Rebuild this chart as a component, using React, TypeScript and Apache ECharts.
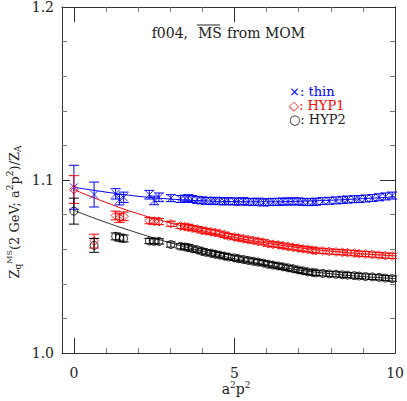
import React, { useEffect, useRef } from "react";
import * as echarts from "echarts";

const xVals = [0, 0.63, 1.3, 1.42, 1.55, 2.35, 2.5, 2.65, 3.02, 3.32, 3.46, 3.56, 3.68, 3.84, 3.99, 4.11, 4.27, 4.4, 4.54, 4.69, 4.81, 5.0, 5.12, 5.28, 5.43, 5.59, 5.74, 5.9, 6.05, 6.2, 6.36, 6.51, 6.67, 6.82, 6.98, 7.13, 7.28, 7.44, 7.54, 7.75, 7.95, 8.16, 8.36, 8.52, 8.73, 8.88, 9.08, 9.29, 9.5, 9.7, 9.91];

const thinY = [1.0958, 1.0916, 1.092, 1.0886, 1.09, 1.0915, 1.0882, 1.09, 1.0895, 1.089, 1.0892, 1.0895, 1.089, 1.0885, 1.0882, 1.088, 1.0878, 1.088, 1.0878, 1.0876, 1.0878, 1.0876, 1.0875, 1.0878, 1.0874, 1.0872, 1.0875, 1.087, 1.0872, 1.0874, 1.0873, 1.0876, 1.0875, 1.0877, 1.0876, 1.0874, 1.0872, 1.0873, 1.0875, 1.0878, 1.088, 1.0882, 1.0885, 1.0887, 1.0889, 1.089, 1.0893, 1.0896, 1.09, 1.0905, 1.091];
const hyp1Y = [1.0945, 1.0647, 1.0795, 1.078, 1.079, 1.0765, 1.0762, 1.076, 1.0747, 1.0734, 1.073, 1.0727, 1.0722, 1.0716, 1.0709, 1.0705, 1.07, 1.0696, 1.069, 1.0683, 1.0676, 1.067, 1.0666, 1.066, 1.0655, 1.065, 1.0645, 1.064, 1.0632, 1.0628, 1.0625, 1.062, 1.0615, 1.0611, 1.0606, 1.0602, 1.0599, 1.0594, 1.0592, 1.059, 1.0587, 1.0584, 1.0582, 1.058, 1.0577, 1.0574, 1.0572, 1.0569, 1.0566, 1.0563, 1.0561];
const hyp2Y = [1.082, 1.0622, 1.0674, 1.0667, 1.0662, 1.0647, 1.0645, 1.0645, 1.0627, 1.0617, 1.0613, 1.061, 1.0603, 1.0597, 1.0588, 1.0582, 1.0577, 1.0571, 1.0566, 1.056, 1.0555, 1.055, 1.0545, 1.054, 1.0535, 1.053, 1.0525, 1.052, 1.0513, 1.0508, 1.0503, 1.0498, 1.0492, 1.0487, 1.048, 1.0475, 1.0469, 1.0465, 1.0463, 1.046, 1.0457, 1.0455, 1.0452, 1.045, 1.0447, 1.0445, 1.0442, 1.044, 1.0437, 1.0433, 1.043];

const thinErr = [0.0127, 0.0072, 0.003, 0.003, 0.003, 0.0025, 0.0025, 0.0025, 0.002, 0.002, 0.002, 0.002, 0.002, 0.002, 0.002, 0.002, 0.002, 0.002, 0.002, 0.002, 0.002, 0.002, 0.002, 0.002, 0.002, 0.002, 0.002, 0.002, 0.002, 0.002, 0.002, 0.002, 0.002, 0.002, 0.002, 0.002, 0.002, 0.002, 0.002, 0.002, 0.002, 0.002, 0.002, 0.002, 0.002, 0.002, 0.002, 0.002, 0.002, 0.002, 0.002];
const hyp1Err = [0.008, 0.004, 0.0025, 0.0025, 0.0025, 0.0018, 0.0018, 0.0018, 0.0015, 0.0015, 0.0015, 0.0015, 0.0015, 0.0015, 0.0015, 0.0015, 0.0015, 0.0015, 0.0015, 0.0015, 0.0015, 0.0015, 0.0015, 0.0015, 0.0015, 0.0015, 0.0015, 0.0015, 0.0015, 0.0015, 0.0015, 0.0015, 0.0015, 0.0015, 0.0015, 0.0015, 0.0015, 0.0015, 0.0015, 0.0015, 0.0015, 0.0015, 0.0015, 0.0015, 0.0015, 0.0015, 0.0015, 0.0015, 0.0015, 0.0015, 0.0015];
const hyp2Err = [0.0075, 0.004, 0.002, 0.002, 0.002, 0.0015, 0.0015, 0.0015, 0.0015, 0.0015, 0.0015, 0.0015, 0.0015, 0.0015, 0.0015, 0.0015, 0.0015, 0.0015, 0.0015, 0.0015, 0.0015, 0.0015, 0.0015, 0.0015, 0.0015, 0.0015, 0.0015, 0.0015, 0.0015, 0.0015, 0.0015, 0.0015, 0.0015, 0.0015, 0.0015, 0.0015, 0.0015, 0.0015, 0.0015, 0.0015, 0.0015, 0.0015, 0.0015, 0.0015, 0.0015, 0.0015, 0.0015, 0.0015, 0.0015, 0.0015, 0.0015];

const fitX = [0, 1, 2, 3, 4, 5, 6, 7, 8, 9, 10];
const thinFit = [1.0958, 1.093, 1.0906, 1.089, 1.088, 1.0875, 1.0874, 1.0877, 1.0883, 1.0892, 1.0903];
const hyp1Fit = [1.0945, 1.087, 1.0805, 1.0752, 1.0707, 1.0668, 1.0636, 1.0609, 1.0589, 1.0573, 1.0562];
const hyp2Fit = [1.0824, 1.0755, 1.0693, 1.0637, 1.0588, 1.0545, 1.051, 1.048, 1.0458, 1.0442, 1.043];

const xMajor = [0, 5, 10];
const xMinor = [1, 2, 3, 4, 6, 7, 8, 9];

const FONT = "DejaVu Serif";
const FRAME = "#333";
const BLUE = "#0000ff";
const RED = "#ff0000";
const BLACK = "#000000";

const pts = (ys: number[]) => xVals.map((x, i) => [x, ys[i]]);
const fitPts = (ys: number[]) => fitX.map((x, i) => [x, ys[i]]);

function errSeries(ys: number[], errs: number[], color: string) {
  return {
    type: "custom",
    xAxisIndex: 0,
    yAxisIndex: 0,
    z: 5,
    data: xVals.map((x, i) => [x, ys[i] - errs[i], ys[i] + errs[i]]),
    renderItem: (params: any, api: any) => {
      const lo = api.coord([api.value(0), api.value(1)]);
      const hi = api.coord([api.value(0), api.value(2)]);
      const w = 5;
      const st = { stroke: color, lineWidth: 1 };
      return {
        type: "group",
        children: [
          { type: "line", shape: { x1: lo[0], y1: lo[1], x2: hi[0], y2: hi[1] }, style: st },
          { type: "line", shape: { x1: lo[0] - w, y1: lo[1], x2: lo[0] + w, y2: lo[1] }, style: st },
          { type: "line", shape: { x1: hi[0] - w, y1: hi[1], x2: hi[0] + w, y2: hi[1] }, style: st },
        ],
      };
    },
  };
}

function xAxisDef(pos: string, vals: number[], len: number, showLine: boolean, showLabel: boolean) {
  return {
    type: "value",
    min: -0.37,
    max: 10,
    position: pos,
    axisLine: { show: showLine, onZero: false, lineStyle: { color: FRAME, width: 1 } },
    axisTick: { show: true, inside: true, length: len, customValues: vals, lineStyle: { color: len > 8 ? FRAME : "#777" } },
    axisLabel: showLabel
      ? { show: true, customValues: xMajor, fontFamily: FONT, fontSize: 14, color: "#222", margin: 13 }
      : { show: false },
    splitLine: { show: false },
  };
}

function yAxisDef(pos: string, len: number, showLabel: boolean) {
  return {
    type: "value",
    min: 1.0,
    max: 1.2,
    interval: 0.1,
    position: pos,
    axisLine: { show: true, onZero: false, lineStyle: { color: FRAME, width: 1 } },
    axisTick: { show: true, inside: true, length: len, lineStyle: { color: FRAME } },
    minorTick: { show: true, splitNumber: 5, length: 5, lineStyle: { color: "#777" } },
    axisLabel: showLabel
      ? { show: true, fontFamily: FONT, fontSize: 14, color: "#222", margin: 8, formatter: (v: number) => v.toFixed(1) }
      : { show: false },
    splitLine: { show: false },
    minorSplitLine: { show: false },
  };
}

export default function App() {
  const ref = useRef<HTMLDivElement>(null);
  useEffect(() => {
    if (!ref.current) return;
    const chart = echarts.init(ref.current, null, { renderer: "svg" });
    const crossPath = "path://M0,0L10,10M10,0L0,10";
    const diamondPath = "path://M5,0L10,5L5,10L0,5Z";
    const tf = `14px '${FONT}'`;
    const lf = `13px '${FONT}'`;
    chart.setOption({
      animation: false,
      backgroundColor: "#fff",
      grid: { left: 62, right: 9, top: 6, bottom: 48, containLabel: false },
      xAxis: [
        xAxisDef("bottom", xMajor, 15, true, true),
        xAxisDef("bottom", xMinor, 5, false, false),
        xAxisDef("top", xMajor, 15, true, false),
        xAxisDef("top", xMinor, 5, false, false),
      ],
      yAxis: [yAxisDef("left", 8, true), yAxisDef("right", 15, false)],
      series: [
        { type: "line", data: fitPts(thinFit), smooth: true, showSymbol: false, lineStyle: { color: BLUE, width: 1 }, z: 2 },
        { type: "line", data: fitPts(hyp1Fit), smooth: true, showSymbol: false, lineStyle: { color: RED, width: 1 }, z: 2 },
        { type: "line", data: fitPts(hyp2Fit), smooth: true, showSymbol: false, lineStyle: { color: "#333", width: 1 }, z: 2 },
        { type: "scatter", data: pts(thinY), symbol: crossPath, symbolSize: 8, itemStyle: { color: "none", borderColor: BLUE, borderWidth: 1 }, z: 4 },
        { type: "scatter", data: pts(hyp1Y), symbol: diamondPath, symbolSize: 9, itemStyle: { color: "none", borderColor: RED, borderWidth: 1 }, z: 4 },
        { type: "scatter", data: pts(hyp2Y), symbol: "circle", symbolSize: 8, itemStyle: { color: "none", borderColor: BLACK, borderWidth: 1 }, z: 4 },
        errSeries(thinY, thinErr, BLUE),
        errSeries(hyp1Y, hyp1Err, RED),
        errSeries(hyp2Y, hyp2Err, BLACK),
      ],
      graphic: [
        { type: "text", x: 188, y: 33, style: { text: "f004,", font: tf, fill: "#222", align: "right", verticalAlign: "middle" } },
        { type: "text", x: 198, y: 33, style: { text: "MS", font: tf, fill: "#222", align: "left", verticalAlign: "middle" } },
        { type: "text", x: 227, y: 33, style: { text: "from MOM", font: tf, fill: "#222", align: "left", verticalAlign: "middle" } },
        { type: "line", shape: { x1: 197, y1: 25, x2: 220, y2: 25 }, style: { stroke: "#222", lineWidth: 1 } },
        { type: "text", x: 289, y: 91, style: { text: "×: thin", font: lf, lineHeight: 13, fill: BLUE, verticalAlign: "middle" } },
        { type: "text", x: 289, y: 105, style: { text: "◇: HYP1", font: lf, lineHeight: 13, fill: RED, verticalAlign: "middle" } },
        { type: "text", x: 289, y: 119, style: { text: "○: HYP2", font: lf, lineHeight: 13, fill: "#222", verticalAlign: "middle" } },
        {
          type: "text",
          x: 236,
          y: 389,
          style: {
            text: "{b|a}{s|2}{b|p}{s|2}",
            align: "center",
            verticalAlign: "middle",
            rich: {
              b: { font: tf, fill: "#222" },
              s: { font: `9px '${FONT}'`, fill: "#222", padding: [0, 0, 9, 0] },
            },
          },
        },
        {
          type: "text",
          x: 14,
          y: 212,
          rotation: Math.PI / 2,
          style: {
            text: "{b|Z}{sub|q}{sup|MS}{b|(2 GeV; a}{s|2}{b|p}{s|2}{b|)/Z}{sub|A}",
            align: "center",
            verticalAlign: "middle",
            rich: {
              b: { font: `13px '${FONT}'`, fill: "#222" },
              s: { font: `9px '${FONT}'`, fill: "#222", padding: [0, 0, 8, 0] },
              sub: { font: `9px '${FONT}'`, fill: "#222", padding: [8, 0, 0, 0] },
              sup: { font: `8px '${FONT}'`, fill: "#222", padding: [0, 0, 9, 0], textDecoration: "overline" },
            },
          },
        },
      ],
    });
    return () => chart.dispose();
  }, []);
  return <div ref={ref} style={{ width: 407, height: 401, position: "absolute", left: 0, top: 0 }} />;
}
